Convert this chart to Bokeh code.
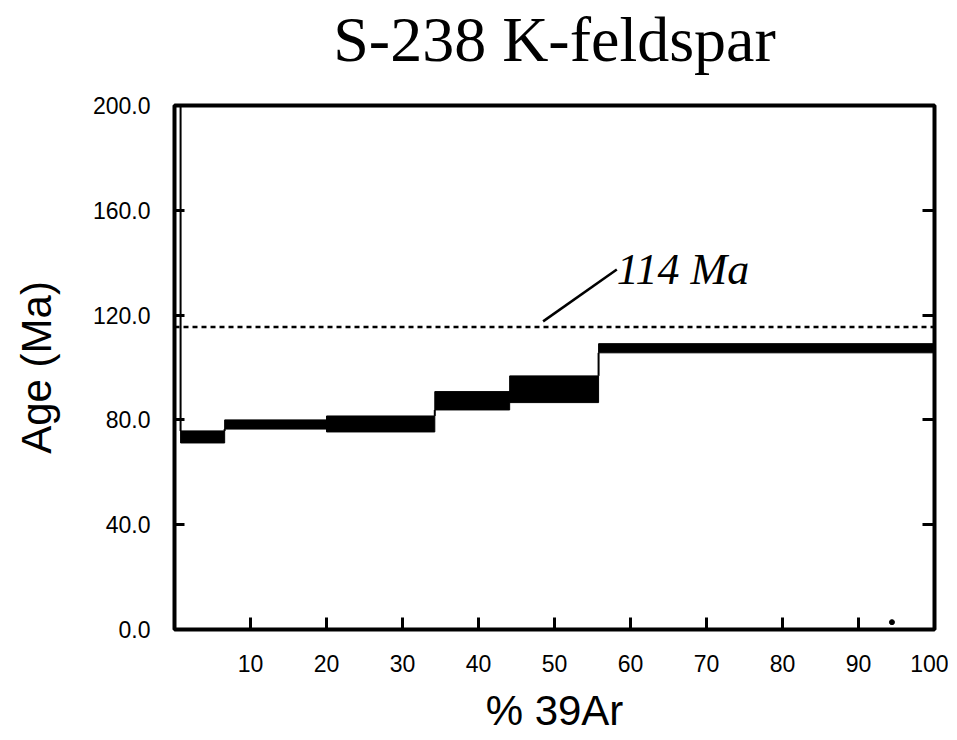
from bokeh.plotting import figure
from bokeh.models import Range1d, FixedTicker, PrintfTickFormatter, LinearAxis, Span, ColumnDataSource
from bokeh.core.properties import value
from bokeh.embed import file_html
from bokeh.resources import INLINE

# --- data ---
step_left = [0.0, 0.8, 6.6, 20.0, 34.25, 44.1, 55.8]
step_right = [0.8, 6.6, 20.0, 34.25, 44.1, 55.8, 100.0]
age_low = [215.0, 71.2, 76.5, 75.4, 83.8, 86.6, 105.6]   # first step is off-scale
age_high = [260.0, 75.8, 80.0, 81.5, 90.8, 96.8, 109.1]

ref_age = 115.5
ref_label = "114 Ma"
leader_x = [48.5, 58.2]
leader_y = [117.6, 137.4]

dot_x = [94.4]
dot_y = [2.8]

x_ticks = [10, 20, 30, 40, 50, 60, 70, 80, 90, 100]
y_ticks = [0, 40, 80, 120, 160, 200]

title_text = "S-238 K-feldspar"
x_label = "% 39Ar"
y_label = "Age (Ma)"

# connectors between consecutive steps
cx0, cx1, cy0, cy1 = [], [], [], []
for i in range(len(step_left) - 1):
    x = step_right[i]
    if age_low[i + 1] > age_high[i]:
        a, b = age_high[i], age_low[i + 1]
    elif age_high[i + 1] < age_low[i]:
        a, b = age_low[i], age_high[i + 1]
    else:
        continue
    cx0.append(x); cx1.append(x); cy0.append(a); cy1.append(b)

p = figure(
    frame_width=760, frame_height=524,
    x_range=Range1d(0, 100), y_range=Range1d(0, 200),
    output_backend="svg", toolbar_location=None,
    min_border_left=174, min_border_right=14, min_border_top=105, min_border_bottom=100,
)
p.background_fill_color = "white"
p.border_fill_color = "white"
p.grid.visible = False
p.outline_line_color = "black"
p.outline_line_width = 4

ax = p.below[0]
ay = p.left[0]

src = ColumnDataSource(dict(left=step_left, right=step_right, bottom=age_low, top=age_high))
p.quad(left="left", right="right", bottom="bottom", top="top", source=src,
       fill_color="black", line_color="black", line_width=1)
p.segment(x0=cx0, y0=cy0, x1=cx1, y1=cy1, line_color="black", line_width=2)

p.add_layout(Span(location=ref_age, dimension="width", line_color="black",
                  line_width=2.5, line_dash="5 4"))
p.line(leader_x, leader_y, line_color="black", line_width=2.5)
p.text(x=[leader_x[1]], y=[leader_y[1]], text=[ref_label],
       text_font=value("Liberation Serif"), text_font_style="italic",
       text_font_size="44px", text_baseline="alphabetic", text_align="left",
       text_color="black")
p.scatter(dot_x, dot_y, size=5, color="black")

ax.ticker = FixedTicker(ticks=x_ticks)
ax.axis_line_color = None
ax.major_tick_in = 12
ax.major_tick_out = 0
ax.major_tick_line_width = 3
ax.minor_tick_line_color = None
ax.major_label_standoff = 25
ax.major_label_text_font = "Liberation Sans"
ax.major_label_text_font_size = "23px"
ax.major_label_text_color = "black"
ax.axis_label = x_label
ax.axis_label_text_font = "Liberation Sans"
ax.axis_label_text_font_size = "42px"
ax.axis_label_text_font_style = "normal"
ax.axis_label_text_color = "black"
ax.axis_label_standoff = 12

ay.ticker = FixedTicker(ticks=y_ticks)
ay.formatter = PrintfTickFormatter(format="%.1f")
ay.axis_line_color = None
ay.major_tick_in = 10
ay.major_tick_out = 0
ay.major_tick_line_width = 3
ay.minor_tick_line_color = None
ay.major_label_standoff = 24
ay.major_label_text_font = "Liberation Sans"
ay.major_label_text_font_size = "23px"
ay.major_label_text_color = "black"
ay.axis_label = y_label
ay.axis_label_text_font = "Liberation Sans"
ay.axis_label_text_font_size = "42px"
ay.axis_label_text_font_style = "normal"
ay.axis_label_text_color = "black"
ay.axis_label_standoff = 30

# title as the label of a bare axis above the frame
ta = LinearAxis(ticker=FixedTicker(ticks=[]))
ta.axis_line_color = None
ta.major_tick_in = 0
ta.major_tick_out = 0
ta.minor_tick_line_color = None
ta.major_label_standoff = 0
ta.axis_label = title_text
ta.axis_label_text_font = "Liberation Serif"
ta.axis_label_text_font_size = "64px"
ta.axis_label_text_font_style = "normal"
ta.axis_label_text_color = "black"
ta.axis_label_standoff = 31
p.add_layout(ta, "above")

ra = LinearAxis(ticker=FixedTicker(ticks=y_ticks))
ra.axis_line_color = None
ra.major_tick_in = 12
ra.major_tick_out = 0
ra.major_tick_line_width = 3
ra.minor_tick_line_color = None
ra.major_label_overrides = {t: "" for t in y_ticks}
ra.major_label_standoff = 0
p.add_layout(ra, "right")

open("out.html", "w").write(file_html(p, INLINE))
